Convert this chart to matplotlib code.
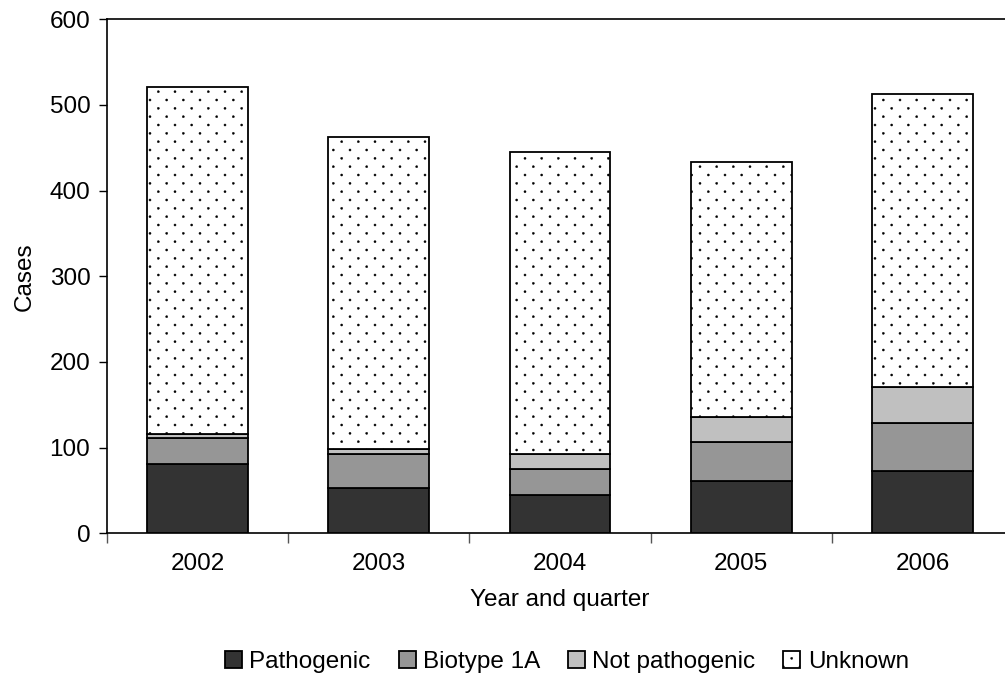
import matplotlib
matplotlib.use("Agg")
import matplotlib.pyplot as plt
import matplotlib.hatch as mhatch
from matplotlib.path import Path
import numpy as np

plt.rcParams['font.family'] = ['Liberation Sans', 'DejaVu Sans']
plt.rcParams['hatch.color'] = '#3a3a3a'
plt.rcParams['hatch.linewidth'] = 0.3

years = ['2002', '2003', '2004', '2005', '2006']
pathogenic = [81, 53, 45, 61, 73]
biotype_1a = [30, 40, 30, 46, 56]
not_pathogenic = [5, 5, 18, 29, 42]
unknown = [405, 365, 352, 298, 342]

series_names = ['Pathogenic', 'Biotype 1A', 'Not pathogenic', 'Unknown']
series = [pathogenic, biotype_1a, not_pathogenic, unknown]
colors = ['#333333', '#969696', '#c0c0c0', 'white']
hatches = [None, None, None, '.']


class DotLattice(mhatch.HatchPatternBase):
    """Staggered small dots: rows twice as dense as columns."""
    def __init__(self, hatch, density):
        self.n = hatch.count('.')
        self.ncols = 6 * self.n
        self.nrows = 12 * self.n
        circ = Path.unit_circle()
        self.sv = circ.vertices
        self.sc = circ.codes
        if self.n:
            self.num_vertices = len(self._points()) * len(self.sv)
        else:
            self.num_vertices = 0

    def _points(self):
        pts = []
        dx = 1.0 / self.ncols
        dy = 1.0 / self.nrows
        for r in range(self.nrows + 1):
            if r % 2 == 0:
                cols = np.linspace(0, 1, self.ncols + 1)
            else:
                cols = np.linspace(dx / 2, 1 - dx / 2, self.ncols)
            for c in cols:
                pts.append((c, r * dy))
        return pts

    def set_vertices_and_codes(self, vertices, codes):
        sv = self.sv * 0.0105
        vp, cp = [], []
        for (px, py) in self._points():
            vp.append(sv + [px, py])
            cp.append(self.sc)
        np.concatenate(vp, out=vertices)
        np.concatenate(cp, out=codes)


mhatch._hatch_types[:] = [DotLattice if t is mhatch.SmallFilledCircles else t
                          for t in mhatch._hatch_types]

fig = plt.figure(figsize=(10.05, 6.77), dpi=100)
ax = fig.add_axes([107/1005, (677-533.3)/677, 906/1005, (533.3-19.3)/677])

x = np.arange(len(years))
bottom = np.zeros(len(years))
handles = []
for name, vals, c, h in zip(series_names, series, colors, hatches):
    b = ax.bar(x, vals, width=0.557, bottom=bottom, color=c, edgecolor='black',
               linewidth=1.3, hatch=h, label=name, zorder=3)
    bottom += np.array(vals)
    handles.append(b)

ax.set_xlim(-0.5, len(years) - 0.5)
ax.set_ylim(0, 600)
ax.set_yticks(range(0, 601, 100))
ax.set_xticks(np.arange(-0.5, len(years), 1.0))
ax.set_xticklabels([])
ax.set_xticks(x, minor=True)
ax.set_xticklabels(years, minor=True)
ax.tick_params(axis='x', which='minor', length=0, pad=14, labelsize=17.5)
ax.tick_params(axis='x', which='major', length=7, width=1, direction='out', color='#555555')
ax.tick_params(axis='y', length=6, width=1, direction='out', pad=6, labelsize=17.5)

for s in ['top', 'left', 'bottom']:
    ax.spines[s].set_linewidth(1.2)
ax.spines['right'].set_visible(False)

ax.set_ylabel('Cases', fontsize=17.5, labelpad=10)
ax.set_xlabel('Year and quarter', fontsize=17.5, labelpad=10)

fig.legend(handles=handles, labels=series_names, loc='center',
           bbox_to_anchor=(567/1005, 1 - 662/677), ncol=4, frameon=False,
           fontsize=17.5, handlelength=0.7, handleheight=0.7,
           handletextpad=0.3, columnspacing=1.15)

fig.savefig('out.png', dpi=100)
